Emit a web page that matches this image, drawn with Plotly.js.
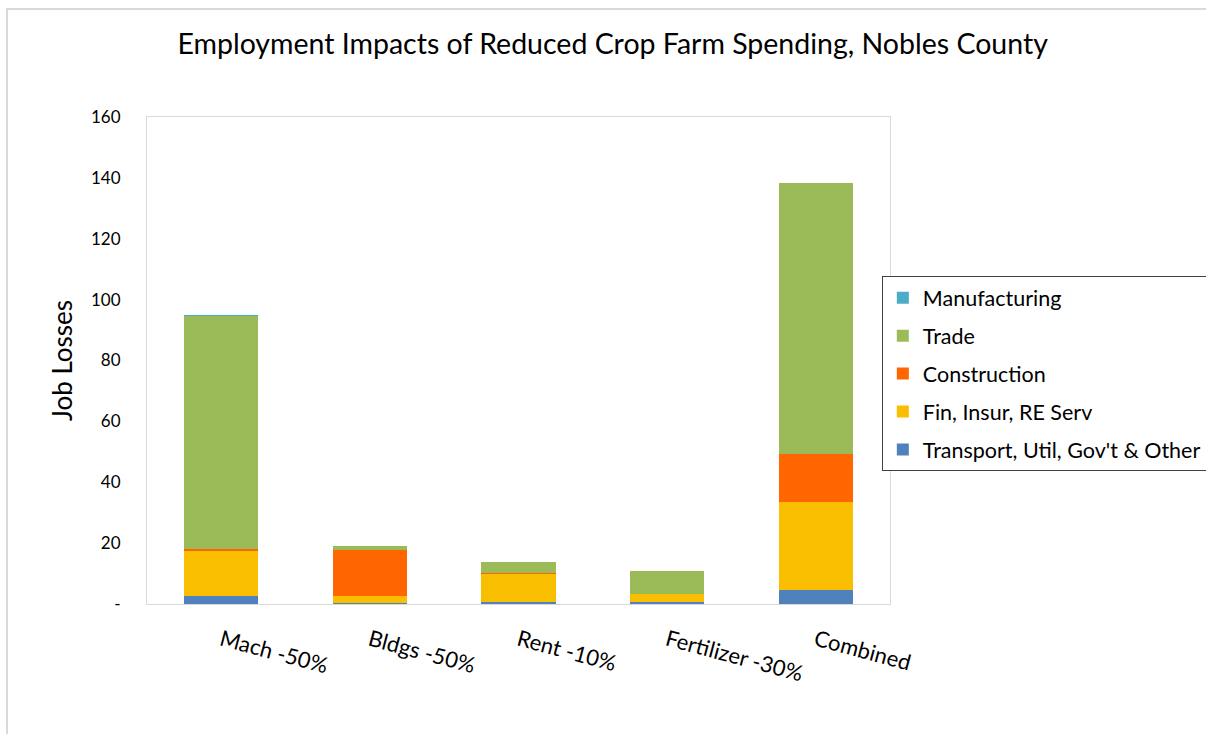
<!DOCTYPE html>
<html>
<head>
<meta charset="utf-8">
<script src="https://cdn.plot.ly/plotly-3.0.1.min.js"></script>
<style>
  html, body { margin: 0; padding: 0; background: #fff; }
  #wrap { position: relative; width: 1206px; height: 734px; overflow: hidden; }
  #chart { width: 1206px; height: 734px; }
  #frame { position: absolute; left: 6px; top: 8px; width: 1300px; height: 800px;
           border-left: 2px solid #D9D9D9; border-top: 2px solid #D9D9D9; pointer-events: none; }
</style>
</head>
<body>
<div id="wrap">
  <div id="chart"></div>
  <div id="frame"></div>
</div>
<script>
const categories = ["Mach -50%", "Bldgs -50%", "Rent -10%", "Fertilizer -30%", "Combined"];

const transport     = [2.5, 0.4, 0.6, 0.6, 4.6];
const finInsur      = [15.0, 2.2, 9.2, 2.6, 29.0];
const construction  = [0.5, 15.1, 0.3, 0.0, 15.8];
const trade         = [76.5, 1.3, 3.6, 7.5, 88.8];
const manufacturing = [0.4, 0.2, 0.1, 0.1, 0.2];

const seriesNames  = ["Transport, Util, Gov't & Other", "Fin, Insur, RE Serv", "Construction", "Trade", "Manufacturing"];
const seriesColors = ["#4F81BD", "#F9BE00", "#FF6600", "#9BBB59", "#4BACC6"];

const yTickVals = [0, 20, 40, 60, 80, 100, 120, 140, 160];
const yTickText = ["-", "20", "40", "60", "80", "100", "120", "140", "160"];

const FONT = "Lato, 'Open Sans', sans-serif";
const seriesData = [transport, finInsur, construction, trade, manufacturing];

const traces = seriesData.map((vals, i) => ({
  type: "bar",
  name: seriesNames[i],
  x: categories,
  y: vals,
  legendgroup: "g" + i,
  legendrank: 1000 - i * 100,
  marker: { color: seriesColors[i], line: { width: 0 } },
  hoverinfo: "x+y+name"
}));

const layout = {
  width: 1206,
  height: 734,
  paper_bgcolor: "#ffffff",
  plot_bgcolor: "#ffffff",
  barmode: "stack",
  bargap: 0.5,
  margin: { l: 147, r: 316, t: 117, b: 130, autoexpand: false },
  font: { family: FONT, color: "#000000" },
  title: {
    text: "Employment Impacts of Reduced Crop Farm Spending, Nobles County",
    font: { family: FONT, size: 28.5, color: "#000000" },
    x: 0.508, xanchor: "center",
    y: 0.94, yanchor: "middle"
  },
  xaxis: {
    type: "category",
    tickangle: 15,
    tickfont: { family: FONT, size: 22, color: "#000000" },
    showline: true, linecolor: "#D9D9D9", linewidth: 1, mirror: true,
    ticks: "outside", ticklen: 14, tickcolor: "rgba(0,0,0,0)",
    showgrid: false, zeroline: false,
    fixedrange: true
  },
  yaxis: {
    range: [0, 160],
    tickvals: yTickVals,
    ticktext: yTickText,
    tickfont: { family: FONT, size: 17, color: "#000000" },
    ticks: "outside", ticklen: 22, tickcolor: "rgba(0,0,0,0)",
    showline: true, linecolor: "#D9D9D9", linewidth: 1, mirror: true,
    showgrid: false, zeroline: false,
    title: { text: "Job Losses", font: { family: FONT, size: 26, color: "#000000" }, standoff: 10 },
    fixedrange: true
  },
  legend: {
    x: 0.989, xanchor: "left",
    y: 0.673, yanchor: "top",
    traceorder: "grouped",
    tracegroupgap: 7,
    font: { family: FONT, size: 21.5, color: "#000000" },
    bordercolor: "#404040", borderwidth: 1,
    bgcolor: "#ffffff",
    itemwidth: 30
  },
  showlegend: true
};

Plotly.newPlot("chart", traces, layout, { displayModeBar: false, staticPlot: true });
</script>
</body>
</html>
